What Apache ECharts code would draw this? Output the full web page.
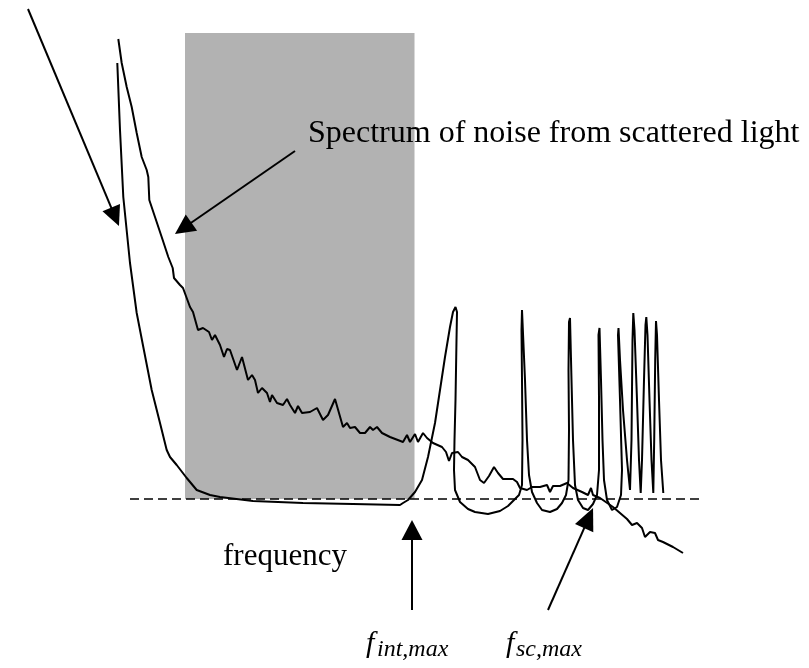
<!DOCTYPE html>
<html>
<head>
<meta charset="utf-8">
<script src="https://cdn.jsdelivr.net/npm/echarts@6/dist/echarts.min.js"></script>
<style>html,body{margin:0;padding:0;background:#fff}#c{width:809px;height:668px}</style>
</head>
<body>
<div id="c"></div>
<script>
// Interferometer response curve (frequency, amplitude above the dashed reference level)
const respFreq = [117.3,120,123.3,130,136.7,143.3,151.7,160,166.7,170,176.7,186.7,196.7,210,220,253,303,353,400,403,408,415,422,428,435,440,445,450,453,455.5,457,456.5,455.5,454.5,454,455,460,468,475,488,500,508,514,519,522,522.5,522,521.5,522,523,525,527,529,532,537,542,550,557,562,566,568.5,569,568.5,569,570,571.5,573,575,578,583,588,593,597,599,599,598.5,599.5,601,602.5,604,607,612,617,621,622,620,618,618.5,620,623,627,630,631.5,632.5,633.3,634.5,637,639,640.7,642,644,645.5,646.3,647.5,649.5,651.5,653.3,654.2,655.2,656,657,659,661,663.3];
const respAmp  = [437,370,303,237,187,153,110,77,50,43,35,22,10,5,3,-1,-3,-4,-5,-3,0,8,20,43,77,110,143,173,188,193,188,160,100,60,30,10,-2,-9,-12,-14,-11,-6,0,5,15,60,120,170,190,188,120,60,25,8,-3,-10,-12,-9,-3,5,20,70,130,178,182,120,60,15,0,-8,-10,-4,5,30,100,165,172,120,60,20,0,-10,-7,5,30,100,165,172,140,90,40,10,60,160,187,170,100,40,7,40,120,175,183,165,100,40,7,60,140,179,165,100,40,7];

// Spectrum of noise from scattered light
const noiseFreq = [118.3,121.7,126.7,131.7,136.7,141.7,146.7,148.3,149.3,155,161.7,168.3,172.7,174,180,183,190,193,198,203,209,212,215,220,224,227,230,237,242,248,252,255,258,262,267,270,272,277,283,287,290,295,298,302,310,317,323,328,335,343,347,350,355,360,365,370,373,377,382,390,403,407,410,415,418,423,427,433,442,446,449,452,458,462,468,475,480,484,489,494,498,503,508,513,517,520,527,532,540,547,550,553,560,567,573,582,588,591,593,600,613,620,627,632,637,642,645,650,655,658,663,673,683];
const noiseAmp  = [461,437,413,393,367,343,330,323,300,283,263,243,232,222,215,212,193,188,170,172,168,160,165,155,143,151,150,130,143,120,125,120,107,112,107,98,105,97,95,101,95,87,94,87,88,92,80,85,101,73,77,72,73,67,67,73,70,73,67,63,58,65,58,66,58,67,62,57,53,48,39,47,48,43,40,33,20,17,24,33,27,21,21,21,18,12,10,13,13,15,8,14,14,17,12,8,5,12,5,2,-7,-13,-19,-25,-23,-28,-37,-32,-33,-40,-42,-47,-53];

// Shaded band (frequency range, amplitude range)
const bandFreq = [185, 414.5];
const bandAmp  = [1, 467];
// Dashed reference level
const refLevel = 1;
const refFreq = [130, 700];

// Annotation arrows: [tailX, tailY, headX, headY]
const arrows = [
  [28, 491, 115.1, 283.2],
  [295, 349, 183.2, 271.7],
  [412, -110, 412, -30],
  [548, -110, 588.6, -18.1]
];
const arrowHeads = [[19, 20], [20, 20], [21, 20], [20, 22]];

const chart = echarts.init(document.getElementById('c'), null, {renderer: 'canvas'});

const arrowLines = arrows.map((a, i) => [
  {coord: [a[0], a[1]], symbol: 'none'},
  {coord: [a[2], a[3]], symbol: 'triangle', symbolSize: arrowHeads[i]}
]);

const serif = "'Liberation Serif', 'Times New Roman', serif";

chart.setOption({
  animation: false,
  backgroundColor: '#ffffff',
  grid: {left: 0, right: 0, top: 0, bottom: 0},
  xAxis: {type: 'value', min: 0, max: 809, show: false},
  yAxis: {type: 'value', min: -168, max: 500, show: false},
  series: [
    {
      type: 'line',
      z: 3,
      data: respFreq.map((f, i) => [f, respAmp[i]]),
      showSymbol: false,
      smooth: false,
      lineStyle: {color: '#000', width: 2},
      silent: true,
      markArea: {
        silent: true,
        itemStyle: {color: '#b2b2b2', opacity: 1},
        data: [[{coord: [bandFreq[0], bandAmp[0]]}, {coord: [bandFreq[1], bandAmp[1]]}]]
      },
      markLine: {
        silent: true,
        animation: false,
        label: {show: false},
        symbol: 'none',
        lineStyle: {color: '#000', width: 1.6, type: [9, 5]},
        data: [[{coord: [refFreq[0], refLevel]}, {coord: [refFreq[1], refLevel]}]]
      }
    },
    {
      type: 'line',
      z: 4,
      data: noiseFreq.map((f, i) => [f, noiseAmp[i]]),
      showSymbol: false,
      lineStyle: {color: '#000', width: 2},
      silent: true,
      markLine: {
        silent: true,
        animation: false,
        label: {show: false},
        lineStyle: {color: '#000', width: 2, type: 'solid'},
        itemStyle: {color: '#000'},
        data: arrowLines
      }
    }
  ],
  graphic: [
    {type: 'text', z: 100, x: 308, y: 134, style: {text: 'Spectrum of noise from scattered light', font: '32px ' + serif, fill: '#000', align: 'left', verticalAlign: 'middle'}},
    {type: 'text', z: 100, x: 223, y: 557, style: {text: 'frequency', font: '31px ' + serif, fill: '#000', align: 'left', verticalAlign: 'middle'}},
    {type: 'text', z: 100, x: 366, y: 644, style: {text: 'f', font: 'italic 30px ' + serif, fill: '#000', align: 'left', verticalAlign: 'middle'}},
    {type: 'text', z: 100, x: 377, y: 650, style: {text: 'int,max', font: 'italic 24px ' + serif, fill: '#000', align: 'left', verticalAlign: 'middle'}},
    {type: 'text', z: 100, x: 506, y: 644, style: {text: 'f', font: 'italic 30px ' + serif, fill: '#000', align: 'left', verticalAlign: 'middle'}},
    {type: 'text', z: 100, x: 516, y: 650, style: {text: 'sc,max', font: 'italic 24px ' + serif, fill: '#000', align: 'left', verticalAlign: 'middle'}}
  ]
});
</script>
</body>
</html>
